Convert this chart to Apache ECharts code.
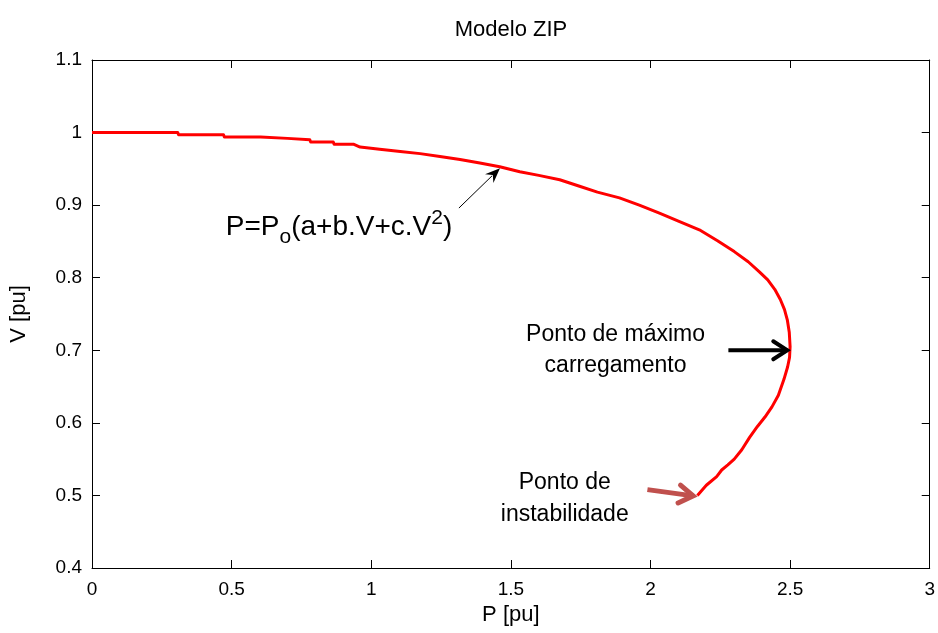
<!DOCTYPE html>
<html>
<head>
<meta charset="utf-8">
<script src="https://cdn.jsdelivr.net/npm/echarts@6/dist/echarts.min.js"></script>
<style>html,body{margin:0;padding:0;background:#fff}#c{width:938px;height:633px}</style>
</head>
<body>
<div id="c"></div>
<script>
// ---- data ----
const titleText = 'Modelo ZIP';
const xName = 'P [pu]';
const yName = 'V [pu]';
const xTicks = [0, 0.5, 1, 1.5, 2, 2.5, 3];
const yTicks = [0.4, 0.5, 0.6, 0.7, 0.8, 0.9, 1.0, 1.1];
// curve points: active power P [pu]
const curveP = [0, 0.307, 0.310, 0.471, 0.474, 0.604, 0.607, 0.700, 0.703, 0.780, 0.783, 0.864, 0.867, 0.936,
  0.96, 1.03, 1.104, 1.175, 1.246, 1.318, 1.389, 1.46, 1.532, 1.60, 1.675, 1.746, 1.81, 1.889, 1.96, 2.032, 2.10, 2.175,
  2.24, 2.30, 2.35, 2.39, 2.42, 2.445, 2.465, 2.48, 2.49, 2.497, 2.50,
  2.498, 2.491, 2.478, 2.458, 2.435, 2.41, 2.383, 2.355, 2.327, 2.30, 2.277, 2.255, 2.237, 2.20, 2.168];
// curve points: voltage V [pu]
const curveV = [1.000, 1.000, 0.997, 0.997, 0.994, 0.994, 0.992, 0.992, 0.990, 0.990, 0.987, 0.987, 0.984, 0.984,
  0.980, 0.977, 0.974, 0.971, 0.967, 0.963, 0.958, 0.953, 0.946, 0.941, 0.935, 0.926, 0.918, 0.910, 0.900, 0.889, 0.878, 0.866,
  0.851, 0.836, 0.822, 0.808, 0.797, 0.784, 0.770, 0.756, 0.742, 0.725, 0.705,
  0.690, 0.677, 0.660, 0.638, 0.622, 0.608, 0.595, 0.580, 0.563, 0.550, 0.542, 0.535, 0.526, 0.514, 0.500];

const formulaLabel = ['P=P', 'o', '(a+b.V+c.V', '2', ')'];
const maxLabel = 'Ponto de máximo\ncarregamento';
const instLabel = 'Ponto de\ninstabilidade';
// annotation anchors in data coordinates [P, V]
const formulaArrow = [[1.314, 0.896], [1.461, 0.951]];
const maxArrow = [[2.279, 0.700], [2.497, 0.700]];
const instArrow = [[1.989, 0.508], [2.160, 0.499]];
const formulaPos = [0.479, 0.869];
const maxTextPos = [1.875, 0.700];
const instTextPos = [1.693, 0.495];

const curve = curveP.map((p, i) => [p, curveV[i]]);
const FONT = 'Liberation Sans, Arial, sans-serif';

const chart = echarts.init(document.getElementById('c'), null, {renderer: 'canvas'});
const axisCommon = {
  axisLine: {show: true, onZero: false, lineStyle: {color: '#000', width: 1}},
  axisTick: {show: true, inside: true, length: 8, lineStyle: {color: '#000', width: 1}},
  splitLine: {show: false}
};
chart.setOption({
  animation: false,
  backgroundColor: '#fff',
  title: {text: titleText, left: 511, textAlign: 'center', top: 19, padding: 0,
    textStyle: {fontFamily: FONT, fontSize: 22, fontWeight: 'normal', color: '#000'}},
  grid: {left: 91, right: 7, top: 60, bottom: 65},
  xAxis: [
    Object.assign({type: 'value', min: xTicks[0], max: xTicks[xTicks.length - 1], interval: 0.5, position: 'bottom',
      name: xName, nameLocation: 'middle', nameGap: 28,
      nameTextStyle: {fontFamily: FONT, fontSize: 22, color: '#000'},
      axisLabel: {fontFamily: FONT, fontSize: 19, color: '#000', margin: 12,
        formatter: v => String(+v.toFixed(1))}}, axisCommon),
    Object.assign({type: 'value', min: xTicks[0], max: xTicks[xTicks.length - 1], interval: 0.5, position: 'top',
      axisLabel: {show: false}}, axisCommon)
  ],
  yAxis: [
    Object.assign({type: 'value', min: yTicks[0], max: yTicks[yTicks.length - 1], interval: 0.1, position: 'left',
      name: yName, nameLocation: 'middle', nameGap: 62, nameRotate: 90,
      nameTextStyle: {fontFamily: FONT, fontSize: 22, color: '#000'},
      axisLabel: {fontFamily: FONT, fontSize: 19, color: '#000', margin: 10,
        formatter: v => String(+v.toFixed(1))}}, axisCommon),
    Object.assign({type: 'value', min: yTicks[0], max: yTicks[yTicks.length - 1], interval: 0.1, position: 'right',
      axisLabel: {show: false}}, axisCommon)
  ],
  series: [{
    type: 'line', data: curve, showSymbol: false, symbol: 'none',
    lineStyle: {color: '#ff0000', width: 3, join: 'round'}, z: 3
  }]
});

function px(pt) { return chart.convertToPixel({xAxisIndex: 0, yAxisIndex: 0}, pt); }

function arrow(from, to, color, width, style) {
  const a = px(from), b = px(to);
  const dx = b[0] - a[0], dy = b[1] - a[1];
  const L = Math.hypot(dx, dy), ux = dx / L, uy = dy / L;
  const nx = -uy, ny = ux;
  const els = [];
  if (style === 'filled') {
    const hl = 15, hw = 6;
    const base = [b[0] - ux * hl, b[1] - uy * hl];
    els.push({type: 'line', shape: {x1: a[0], y1: a[1], x2: base[0] + ux * 4, y2: base[1] + uy * 4},
      style: {stroke: color, lineWidth: width}, z: 10});
    els.push({type: 'polygon', shape: {points: [b, [base[0] + nx * hw, base[1] + ny * hw], [base[0] + ux * 5, base[1] + uy * 5], [base[0] - nx * hw, base[1] - ny * hw]]},
      style: {fill: color}, z: 10});
  } else {
    const hl = 16, hw = 9;
    els.push({type: 'line', shape: {x1: a[0], y1: a[1], x2: b[0] - ux * 2, y2: b[1] - uy * 2},
      style: {stroke: color, lineWidth: width, lineCap: 'butt'}, z: 10});
    els.push({type: 'polyline', shape: {points: [[b[0] - ux * hl + nx * hw, b[1] - uy * hl + ny * hw], [b[0] - ux * 2, b[1] - uy * 2], [b[0] - ux * hl - nx * hw, b[1] - uy * hl - ny * hw]]},
      style: {stroke: color, lineWidth: width, fill: null, lineJoin: 'miter', lineCap: 'round'}, z: 10});
  }
  return els;
}

const fp = px(formulaPos), mp = px(maxTextPos), ip = px(instTextPos);
const graphics = [].concat(
  arrow(formulaArrow[0], formulaArrow[1], '#000', 1, 'filled'),
  arrow(maxArrow[0], maxArrow[1], '#000', 4, 'open'),
  arrow(instArrow[0], instArrow[1], '#c0504d', 5, 'open'),
  [
    {type: 'text', x: fp[0], y: fp[1], z: 10,
      style: {text: '{a|' + formulaLabel[0] + '}{s|' + formulaLabel[1] + '}{a|' + formulaLabel[2] + '}{p|' + formulaLabel[3] + '}{a|' + formulaLabel[4] + '}',
        verticalAlign: 'middle', align: 'left',
        rich: {
          a: {fontFamily: FONT, fontSize: 28, fill: '#000', lineHeight: 40},
          s: {fontFamily: FONT, fontSize: 21, fill: '#000', verticalAlign: 'bottom', padding: [22, 0, 0, 0], lineHeight: 40},
          p: {fontFamily: FONT, fontSize: 21, fill: '#000', verticalAlign: 'top', padding: [0, 0, 18, 0], lineHeight: 40}
        }}},
    {type: 'text', x: mp[0], y: mp[1], z: 10,
      style: {text: maxLabel, fontFamily: FONT, fontSize: 23, fill: '#000', align: 'center', verticalAlign: 'middle', lineHeight: 31}},
    {type: 'text', x: ip[0], y: ip[1], z: 10,
      style: {text: instLabel, fontFamily: FONT, fontSize: 23, fill: '#000', align: 'center', verticalAlign: 'middle', lineHeight: 32}}
  ]
);
chart.setOption({graphic: graphics});
</script>
</body>
</html>
